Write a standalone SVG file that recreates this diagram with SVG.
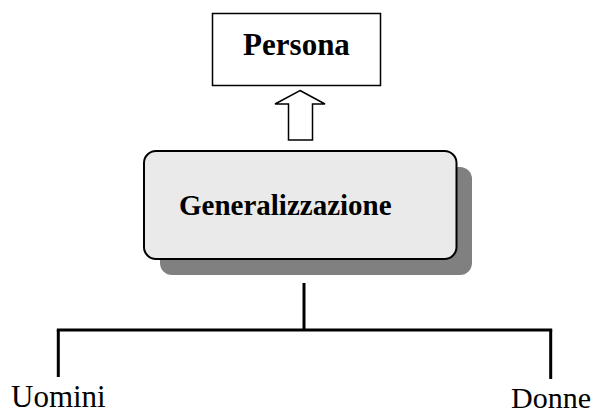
<svg xmlns="http://www.w3.org/2000/svg" width="595" height="410" viewBox="0 0 595 410">
  <style>
    .label { font-family: "Liberation Serif", "Times New Roman", serif; fill: #000; }
    .bold { font-weight: bold; }
    .wire { stroke: #000; stroke-width: 3; fill: none; stroke-linecap: butt; }
  </style>
  <rect width="595" height="410" fill="#fff"/>

  <!-- Parent entity -->
  <g id="persona">
    <rect x="212.5" y="13.5" width="168" height="72" fill="#fff" stroke="#000" stroke-width="1.5"/>
    <text class="label bold" x="296.5" y="55" font-size="31" text-anchor="middle">Persona</text>
  </g>

  <!-- Hollow upward arrow -->
  <g id="arrow">
    <polygon points="300,90.5 325,104 312.5,104 312.5,140 288.5,140 288.5,104 275,104" fill="#fff" stroke="#000" stroke-width="1.5" stroke-linejoin="miter"/>
  </g>

  <!-- Generalization box with drop shadow -->
  <g id="generalizzazione">
    <rect x="160" y="167" width="312" height="108" rx="12" ry="12" fill="#808080"/>
    <rect x="144" y="151" width="312.5" height="108" rx="12" ry="12" fill="#eaeaea" stroke="#000" stroke-width="2"/>
    <text class="label bold" x="179" y="215" font-size="29">Generalizzazione</text>
  </g>

  <!-- Connectors -->
  <g id="connectors">
    <line class="wire" x1="304" y1="283" x2="304" y2="330"/>
    <line class="wire" x1="56.8" y1="330" x2="552.2" y2="330"/>
    <line class="wire" x1="58.3" y1="330" x2="58.3" y2="377"/>
    <line class="wire" x1="550.7" y1="330" x2="550.7" y2="379"/>
  </g>

  <!-- Child entities -->
  <g id="uomini">
    <text class="label" x="11" y="407" font-size="31">Uomini</text>
  </g>
  <g id="donne">
    <text class="label" x="511" y="408" font-size="30">Donne</text>
  </g>
</svg>
